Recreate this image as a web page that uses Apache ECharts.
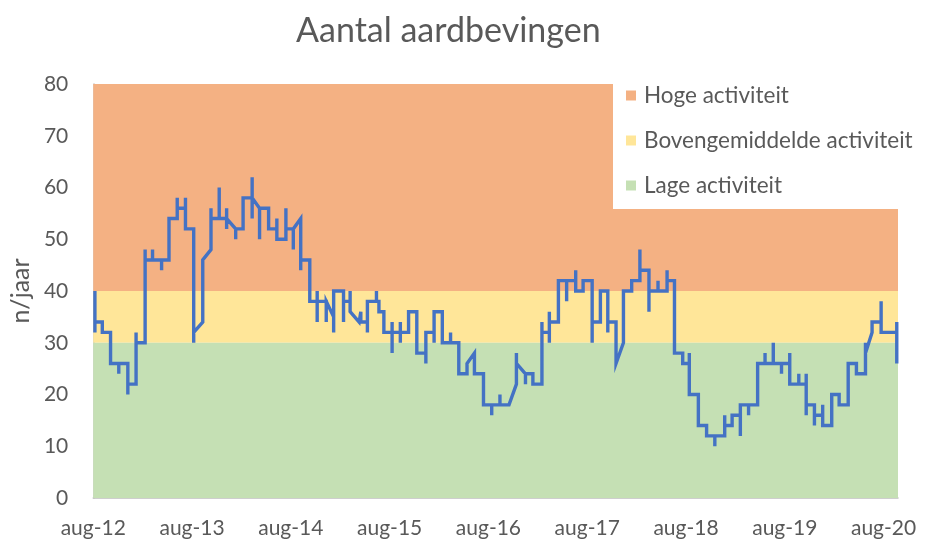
<!DOCTYPE html>
<html>
<head>
<meta charset="utf-8">
<script src="https://cdn.jsdelivr.net/npm/echarts@6/dist/echarts.min.js"></script>
<style>
html,body{margin:0;padding:0;background:#fff;}
#chart{width:925px;height:542px;}
</style>
</head>
<body>
<div id="chart"></div>
<script>
// x = months since aug-12
var tickLabels = ['aug-12','aug-13','aug-14','aug-15','aug-16','aug-17','aug-18','aug-19','aug-20'];
var xMax = 97.75;

var bandNames = ['Hoge activiteit','Bovengemiddelde activiteit','Lage activiteit'];
var bandLow = [40, 30, 0];
var bandHigh = [80, 40, 30];
var bandColors = ['#F4B183','#FFE699','#C5E0B4'];

var months = [
0.2,0.2,0.2,1.1,1.1,2.1,2.1,3.1,3.1,3.1,4.2,4.2,4.2,5.2,5.2,5.2,6.3,6.3,6.3,7.2,7.2,7.2,8.3,8.3,8.3,9.2,9.2,10.2,10.2,10.2,
11.2,11.2,11.2,12.2,12.2,12.2,13.3,13.3,14.3,14.3,14.3,15.3,15.3,15.3,16.2,16.2,16.2,16.2,17.3,17.3,17.3,18.2,18.2,19.3,19.3,19.3,19.3,
20.2,20.2,20.2,21.3,21.3,22.3,22.3,22.3,23.4,23.4,23.4,24.3,24.3,24.3,25.2,25.2,25.2,26.3,26.3,27.2,27.2,27.2,27.2,28.3,28.3,28.3,
29.2,29.2,29.2,30.4,30.4,30.4,31.2,31.2,31.2,32.3,32.5,32.5,32.5,33.3,33.3,33.3,34.4,34.4,34.4,34.7,34.7,35.3,35.3,
36.3,36.3,36.3,36.3,37.3,37.3,37.3,37.3,38.3,38.3,39.3,39.3,40.4,40.4,40.4,41.4,41.4,41.4,41.4,42.4,42.4,43.4,43.4,43.4,44.4,44.4,
45.4,45.4,46.3,46.3,47.4,47.4,48.4,48.4,48.4,49.4,49.4,49.4,50.5,51.4,51.4,51.4,52.5,52.5,52.5,53.4,53.4,54.5,54.5,54.5,
55.4,55.4,55.4,55.4,56.5,56.5,57.5,57.5,57.5,58.6,58.6,58.6,59.5,59.5,60.6,60.6,60.6,61.6,61.6,62.5,62.5,62.5,63.5,63.5,
64.4,64.4,65.4,65.4,66.4,66.4,66.4,67.5,67.5,67.5,68.6,68.6,68.6,69.7,69.7,69.7,70.6,70.6,71.6,71.6,72.4,72.4,72.4,
73.5,73.5,74.5,74.5,75.5,75.5,75.5,76.7,76.7,76.7,77.6,77.6,78.6,78.6,78.6,79.6,79.6,79.6,80.7,80.7,
81.6,81.6,81.6,82.6,82.6,82.6,83.6,83.6,83.6,84.6,84.6,84.6,85.7,85.7,85.7,86.6,86.6,86.6,86.6,87.6,87.6,87.6,
88.6,88.6,88.6,89.7,89.7,90.6,90.6,91.7,91.7,92.7,92.7,93.8,93.8,93.8,94.6,94.6,95.7,95.7,95.7,97.6,97.6,97.6
];
var perYear = [
40,32,34,34,32,32,26,26,24,26,26,20,22,22,32,30,30,48,46,46,48,46,46,44,46,46,54,54,58,56,
56,58,52,52,30,32,34,46,48,56,54,54,60,54,54,56,52,54,52,50,52,52,58,58,62,54,58,
56,50,56,56,52,52,54,50,50,56,52,52,48,52,54,44,46,46,38,38,40,34,38,38,34,38,
35,32,40,40,34,38,38,40,36,34,34,36,34,34,32,38,38,40,38,38,36,36,32,
32,34,28,32,32,34,30,32,32,36,36,28,28,26,32,32,36,30,36,36,30,30,32,30,30,24,
24,26,28,24,24,18,18,16,18,18,20,18,18,22,28,26,24,22,24,24,22,22,34,32,
32,36,30,34,34,42,42,38,42,42,44,40,40,42,42,30,34,34,40,40,32,34,34,26,
30,40,40,42,42,48,44,44,36,40,40,42,40,40,44,42,42,28,28,26,26,28,20,
20,14,14,12,12,10,12,12,16,14,14,16,16,12,18,18,16,18,18,26,
26,28,26,26,30,26,26,24,26,26,28,22,22,24,22,22,24,16,18,18,14,16,
16,18,14,14,20,20,18,18,26,26,24,24,30,28,32,34,34,38,32,32,34,26
];

var lineData = months.map(function(m, i){ return [m, perYear[i]]; });

var series = bandNames.map(function(name, i){
  return {
    name: name,
    type: 'line',
    symbol: 'none',
    silent: true,
    data: [],
    lineStyle: {width: 0, color: bandColors[i]},
    itemStyle: {color: bandColors[i]},
    markArea: {
      silent: true,
      itemStyle: {color: bandColors[i], opacity: 1, borderWidth: 0},
      data: [[{yAxis: bandLow[i]}, {yAxis: bandHigh[i]}]]
    },
    z: 1
  };
});
series.push({
  name: 'Aantal',
  type: 'line',
  symbol: 'none',
  data: lineData,
  lineStyle: {color: '#4472C4', width: 3.4, join: 'miter'},
  itemStyle: {color: '#4472C4'},
  z: 5
});

var chart = echarts.init(document.getElementById('chart'), null, {renderer: 'canvas'});
chart.setOption({
  animation: false,
  backgroundColor: '#ffffff',
  textStyle: {fontFamily: 'Lato'},
  title: {
    text: 'Aantal aardbevingen',
    left: 291, top: 9,
    textStyle: {fontFamily: 'Lato', fontSize: 34, fontWeight: 'normal', color: '#595959'}
  },
  legend: {
    data: bandNames,
    orient: 'vertical',
    left: 613, top: 84,
    padding: [0, 10, 12, 13],
    backgroundColor: '#ffffff',
    icon: 'rect',
    itemWidth: 10, itemHeight: 10,
    itemGap: 22,
    selectedMode: false,
    textStyle: {fontFamily: 'Lato', fontSize: 22.5, color: '#595959', lineHeight: 20, padding: [0,0,0,3]}
  },
  grid: {left: 92, right: 27, top: 84, bottom: 44, containLabel: false},
  xAxis: {
    type: 'value', min: 0, max: xMax, interval: 12,
    axisLine: {show: true, lineStyle: {color: '#BFBFBF', width: 1.5}},
    axisTick: {show: false},
    splitLine: {show: false},
    axisLabel: {
      fontFamily: 'Lato', fontSize: 21, color: '#595959', margin: 20, showMaxLabel: false,
      formatter: function(v){ var k = Math.round(v/12); return (Math.abs(v - k*12) < 1e-6) ? (tickLabels[k] || '') : ''; }
    }
  },
  yAxis: {
    type: 'value', min: 0, max: 80, interval: 10,
    name: 'n/jaar', nameLocation: 'middle', nameGap: 56, nameRotate: 90,
    nameTextStyle: {fontFamily: 'Lato', fontSize: 25, color: '#595959'},
    axisLine: {show: true, lineStyle: {color: '#BFBFBF', width: 1.5}},
    axisTick: {show: false},
    splitLine: {show: false},
    axisLabel: {fontFamily: 'Lato', fontSize: 21, color: '#595959', margin: 25}
  },
  series: series
});
</script>
</body>
</html>
